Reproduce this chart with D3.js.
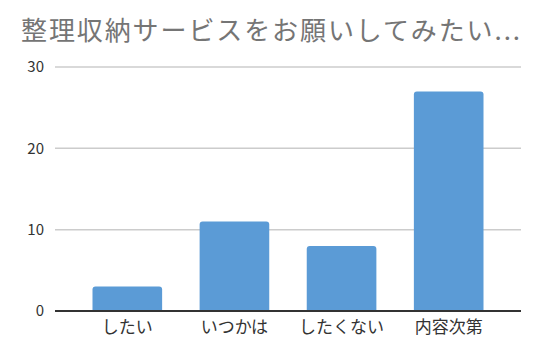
<!DOCTYPE html>
<html><head><meta charset="utf-8">
<script src="https://cdn.jsdelivr.net/npm/d3@7"></script>
<style>body{margin:0;background:#fff;}svg{display:block;}</style>
</head><body>
<svg id="c" width="538" height="356"></svg>
<script>
const title = "整理収納サービスをお願いしてみたい...";
const categories = ["したい", "いつかは", "したくない", "内容次第"];
const values = [3, 11, 8, 27];
const yTicks = [0, 10, 20, 30];

const svg = d3.select("#c");
const font = "'Noto Sans CJK JP', 'Noto Sans', sans-serif";
const x = d3.scaleBand().domain(categories).range([55, 521]).paddingInner(0.35).paddingOuter(0.35);
const y = d3.scaleLinear().domain([0, 30]).range([311, 67]);

svg.append("text").attr("x", 21).attr("y", 40).text(title)
  .attr("font-family", font).attr("font-size", 26).attr("letter-spacing", 1.9).attr("fill", "#757575");

const yAxis = d3.axisLeft(y).tickValues(yTicks).tickSize(0).tickPadding(11);
const ga = svg.append("g").attr("transform", "translate(55,0)").call(yAxis);
ga.select(".domain").remove();
ga.selectAll("text").attr("font-family", font).attr("font-size", 15).attr("fill", "#333");

svg.append("g").selectAll("line").data(yTicks.filter(d => d > 0)).join("line")
  .attr("x1", 55).attr("x2", 521).attr("y1", d => y(d)).attr("y2", d => y(d))
  .attr("stroke", "#cccccc").attr("stroke-width", 1.5);

const r = 3;
svg.append("g").selectAll("path").data(values).join("path")
  .attr("d", (d, i) => {
    const x0 = x(categories[i]), w = x.bandwidth(), yt = y(d), yb = y(0);
    return `M${x0},${yb}V${yt + r}Q${x0},${yt} ${x0 + r},${yt}H${x0 + w - r}Q${x0 + w},${yt} ${x0 + w},${yt + r}V${yb}Z`;
  })
  .attr("fill", "#5b9bd6");

svg.append("line").attr("x1", 55).attr("x2", 521).attr("y1", y(0)).attr("y2", y(0))
  .attr("stroke", "#333").attr("stroke-width", 2);

const xAxis = d3.axisBottom(x).tickSize(0).tickPadding(10);
const gx = svg.append("g").attr("transform", `translate(0,${y(0)})`).call(xAxis);
gx.select(".domain").remove();
gx.selectAll("text").attr("font-family", font).attr("font-size", 17).attr("fill", "#333");
</script>
</body></html>
